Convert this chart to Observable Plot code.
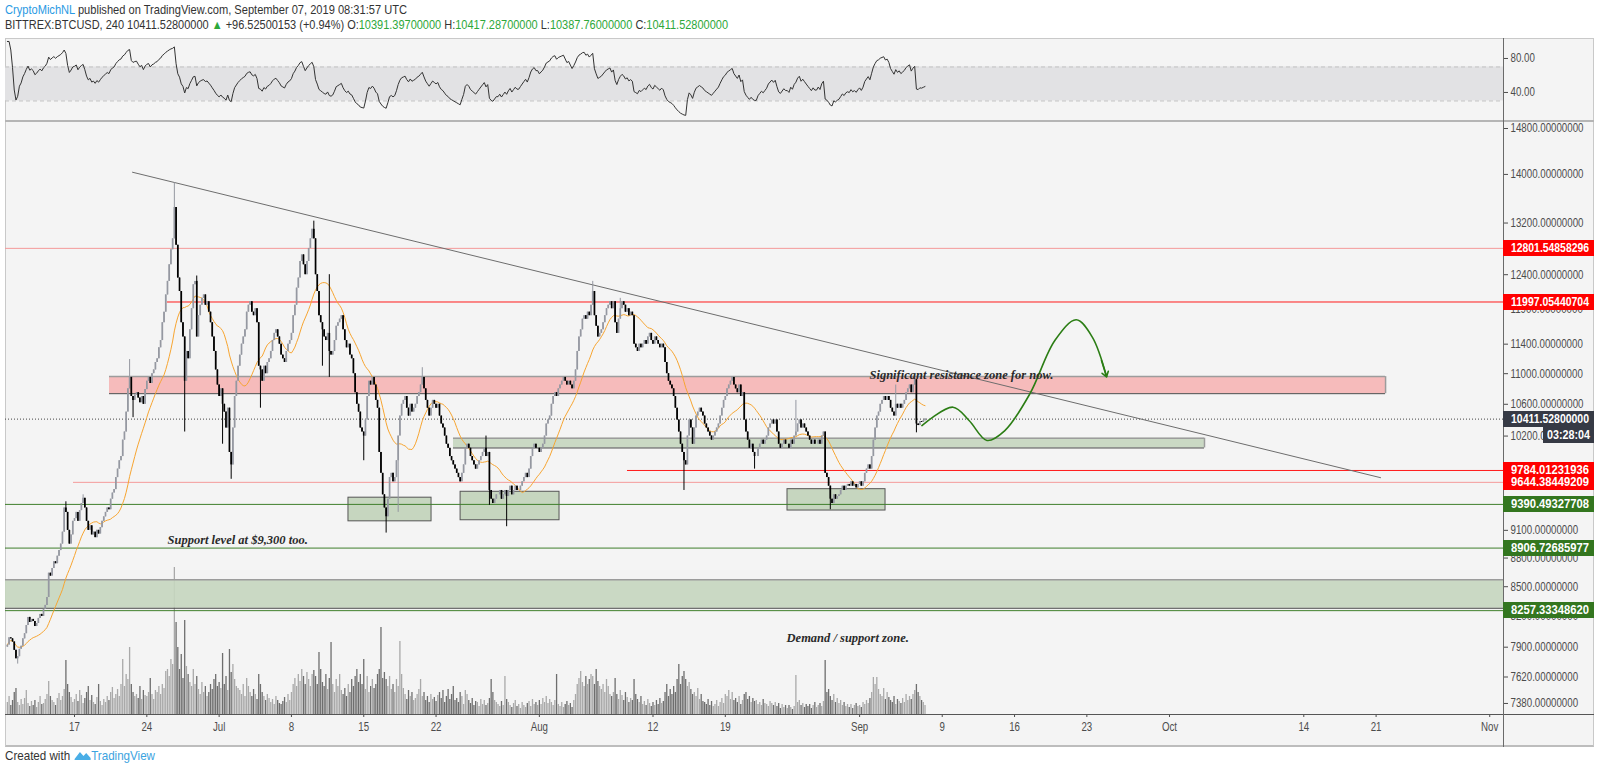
<!DOCTYPE html>
<html><head><meta charset="utf-8">
<script src="https://cdn.jsdelivr.net/npm/d3@7"></script>
<script src="https://cdn.jsdelivr.net/npm/@observablehq/plot@0.6"></script>
<style>
body{margin:0;background:#fff;}
#root{position:relative;width:1600px;height:771px;overflow:hidden;background:#fff;}
.abs{position:absolute;}
.hdr{font-family:'Liberation Sans','DejaVu Sans',sans-serif;white-space:nowrap;color:#333;display:inline-block;transform-origin:0 50%;}
.tag{position:absolute;left:1503px;width:91px;height:16px;line-height:16px;color:#fff;font-weight:bold;font-size:12px;padding-left:8px;box-sizing:border-box;font-family:'Liberation Sans','DejaVu Sans',sans-serif;white-space:nowrap;overflow:hidden;}
.tag span{display:inline-block;transform-origin:0 50%;}
</style></head>
<body><div id="root"></div>
<script>
// ---------------- DATA ----------------
// 4h candles, BITTREX:BTCUSD, first candle 2019-06-10 12:00 UTC; 6 closes per day
const firstOpen = 7900;
const closes = [
 7920,7990,7980,                          // Jun 10
 7950,7870,7790,7810,7880,7910,           // Jun 11
 7980,8030,8110,8190,8140,8170,           // Jun 12
 8150,8100,8130,8180,8220,8200,           // Jun 13
 8270,8310,8390,8640,8610,8690,           // Jun 14
 8760,8740,8820,8880,8950,9080,           // Jun 15
 9350,9300,9100,8950,9050,9200,           // Jun 16
 9230,9300,9200,9320,9400,9460,           // Jun 17
 9350,9200,9100,9150,9050,9080,           // Jun 18
 9020,9100,9060,9130,9200,9250,           // Jun 19
 9300,9350,9330,9450,9520,9560,           // Jun 20
 9700,9800,9900,9950,10150,10250,         // Jun 21
 10500,10800,10950,10700,10650,10720,     // Jun 22
 10750,10680,10620,10700,10600,10790,     // Jun 23
 10900,10950,10870,11000,11050,11150,     // Jun 24
 11200,11350,11450,11700,11850,12100,     // Jun 25
 12300,12550,12780,12950,13450,12850,     // Jun 26
 12350,12150,11700,11500,10900,11300,     // Jun 27
 11200,11600,11900,12250,12300,11500,     // Jun 28
 11800,11950,12050,12100,11950,12000,     // Jun 29
 11850,11700,11500,11300,11050,10850,     // Jun 30
 10700,10800,10600,10500,10300,10550,     // Jul 1
 10000,9850,10300,10700,10900,11100,      // Jul 2
 11250,11400,11500,11600,11850,11950,     // Jul 3
 12000,11850,11800,11900,11700,11100,     // Jul 4
 11050,10900,11100,11000,11150,11200,     // Jul 5
 11300,11450,11550,11600,11500,11400,     // Jul 6
 11250,11200,11150,11300,11400,11450,     // Jul 7
 11550,11800,11950,12200,12350,12600,     // Jul 8
 12700,12550,12400,12600,12800,12950,     // Jul 9
 13100,12950,12400,12150,11800,11700,     // Jul 10
 11600,11500,11450,11550,11300,11250,     // Jul 11
 11300,11450,11650,11700,11750,11800,     // Jul 12
 11600,11450,11350,11400,11250,11200,     // Jul 13
 11000,10750,10600,10500,10300,10250,     // Jul 14
 10200,10400,10700,10900,10850,10950,     // Jul 15
 10850,10650,10550,10000,9750,9500,       // Jul 16
 9350,9250,9450,9700,9750,9650,           // Jul 17
 9700,9900,10200,10450,10600,10650,       // Jul 18
 10700,10550,10450,10600,10500,10550,     // Jul 19
 10600,10700,10750,10850,10950,10800,     // Jul 20
 10650,10550,10450,10550,10650,10600,     // Jul 21
 10550,10600,10450,10350,10300,10200,     // Jul 22
 10100,10050,9950,9900,9850,9800,         // Jul 23
 9750,9700,9650,9750,9850,10050,          // Jul 24
 10100,10050,9950,9900,9850,9800,         // Jul 25
 9850,9900,9950,10000,10050,9950,         // Jul 26
 10000,9550,9450,9400,9450,9500,          // Jul 27
 9500,9550,9450,9500,9550,9480,           // Jul 28
 9550,9600,9500,9550,9600,9550,           // Jul 29
 9550,9600,9650,9700,9750,9700,           // Jul 30
 9800,9950,10050,10100,10050,10050,       // Jul 31
 10000,10050,10100,10200,10350,10400,     // Aug 1
 10450,10600,10700,10750,10700,10800,     // Aug 2
 10850,10900,10950,10900,10850,10900,     // Aug 3
 10850,10800,10900,11050,11300,11500,     // Aug 4
 11600,11750,11800,11750,11850,11800,     // Aug 5
 11950,12150,11800,11650,11500,11550,     // Aug 6
 11600,11700,11800,11900,11950,12000,     // Aug 7
 11900,12000,11700,11550,11750,11900,     // Aug 8
 12000,11950,11850,11900,11800,11850,     // Aug 9
 11800,11400,11350,11300,11400,11350,     // Aug 10
 11400,11450,11400,11500,11550,11450,     // Aug 11
 11400,11500,11450,11400,11350,11400,     // Aug 12
 11350,11150,11000,10900,10850,10800,     // Aug 13
 10700,10550,10400,10250,10100,10000,     // Aug 14
 9900,9850,10200,10400,10300,10100,       // Aug 15
 10300,10450,10500,10550,10500,10450,     // Aug 16
 10350,10300,10250,10200,10150,10200,     // Aug 17
 10250,10300,10350,10450,10550,10650,     // Aug 18
 10700,10800,10850,10900,10950,10850,     // Aug 19
 10800,10750,10850,10700,10750,10400,     // Aug 20
 10250,10150,10050,10100,10000,9950,      // Aug 21
 9950,10050,10100,10150,10100,10150,      // Aug 22
 10200,10300,10350,10400,10350,10400,     // Aug 23
 10250,10100,10050,10100,10150,10100,     // Aug 24
 10100,10050,10150,10100,10200,10250,     // Aug 25
 10350,10400,10300,10350,10300,10250,     // Aug 26
 10200,10150,10100,10150,10100,10100,     // Aug 27
 10150,10100,10200,10250,9750,9700,       // Aug 28
 9600,9450,9400,9500,9450,9480,           // Aug 29
 9500,9550,9600,9550,9600,9620,           // Aug 30
 9600,9650,9600,9620,9580,9620,           // Aug 31
 9650,9600,9650,9750,9800,9850,           // Sep 1
 9800,9950,10150,10300,10450,10500,       // Sep 2
 10600,10650,10700,10650,10700,10650,     // Sep 3
 10550,10500,10450,10600,10550,10600,     // Sep 4
 10550,10600,10650,10750,10800,10850,     // Sep 5
 10750,10850,10920,10350,10330,10380,     // Sep 6
 10370,10391.397,10411.528                // Sep 7
];
const volumes = [
 12,18,9,
 14,22,26,12,9,15, 10,16,24,11,8,13, 9,14,7,12,18,10, 11,15,20,33,18,14, 12,9,16,21,14,18,
 25,54,30,22,17,12, 15,20,13,24,19,11, 16,22,28,14,19,12, 10,17,30,13,9,15, 12,18,14,22,27,16,
 20,25,18,30,55,28, 40,35,67,30,22,18, 20,16,28,15,24,19, 18,22,36,20,15,24, 22,28,20,30,26,43,
 45,38,55,50,147,92, 67,45,60,36,94,48, 40,32,28,45,30,38, 25,20,32,22,28,18, 22,30,25,35,40,28,
 32,26,61,30,38,24, 65,42,50,35,28,26, 24,20,30,18,36,28, 22,18,25,20,15,40, 30,22,18,14,20,16,
 12,15,10,18,14,11, 10,13,17,12,20,14, 22,30,36,28,40,33, 45,38,30,42,35,28, 40,44,38,30,62,45,
 32,28,40,25,36,72, 30,22,35,28,40,24, 20,26,18,30,22,35, 28,38,45,32,40,30, 55,25,38,22,28,35,
 26,30,40,45,87,36, 42,35,28,38,25,30, 22,35,28,73,40,26, 20,15,24,18,22,14, 16,20,25,35,18,22,
 14,18,12,20,15,17, 13,19,22,16,24,12, 18,25,15,20,28,14, 16,12,22,18,10,24, 20,14,11,16,9,13,
 12,8,15,10,14,9, 11,16,35,22,14,12, 10,8,13,9,38,15, 12,9,7,11,14,8, 10,6,12,9,7,11,
 13,8,15,10,12,9, 14,10,16,12,18,11, 15,12,9,14,40,10, 8,12,7,10,13,9, 11,7,14,20,30,36,
 43,32,28,38,30,35, 40,38,30,45,33,28, 25,30,22,35,28,20, 18,22,36,20,15,24, 19,14,22,17,12,16,
 14,35,20,15,12,18, 10,13,9,15,11,8, 12,9,14,10,16,11, 13,22,30,18,25,20, 28,22,35,50,30,38,
 43,35,28,32,25,20, 22,18,26,15,20,13, 12,10,15,9,13,8, 10,14,8,12,16,11, 20,18,24,15,22,14,
 16,12,18,10,14,20, 22,15,18,12,16,13, 14,10,12,9,15,11, 10,8,13,11,9,12, 8,11,6,10,7,9,
 6,9,7,5,8,39, 12,14,9,11,7,10, 8,10,6,9,12,7, 9,11,8,13,54,22, 25,18,14,20,12,16,
 11,14,9,12,8,10, 7,10,6,9,11,8, 9,7,12,10,14,11, 16,22,37,30,37,25, 20,18,26,15,22,17,
 14,12,18,10,15,13, 11,16,12,20,14,18, 15,20,24,30,22,18,
 14,12,9
];
// wick extremes: [candle index, price]
const wickHighs = [[34,9420],[44,9500],[71,11190],[97,13860],[110,12380],[178,13230],[187,12400],
 [241,11080],[278,10200],[340,12300],[356,12050],[458,10650],[516,10850],[527,10950],[533,10417.287]];
const wickLows = [[6,7740],[73,10430],[103,10250],[125,10100],[130,9680],[147,10550],[183,11100],[187,10950],
 [207,9900],[220,9070],[227,9300],[280,9380],[290,9140],[393,9550],[434,9800],[478,9330],[528,10240],[533,10387.76]];

const priceTicks = [14800,14000,13200,12400,11900,11400,11000,10600,10200,8800,8500,8200,9100,7900,7620,7380];
const rsiTicks = [40,80];
const rsiBandLevels = [30,70];
const timeTicks = ["2019-06-17","2019-06-24","2019-07-01","2019-07-08","2019-07-15","2019-07-22","2019-08-01",
 "2019-08-12","2019-08-19","2019-09-01","2019-09-09","2019-09-16","2019-09-23","2019-10-01","2019-10-14","2019-10-21","2019-11-01"];

// horizontal levels drawn by the author
const levels = [
 {price:12801.54858296, from:null, kind:"resMinor"},
 {price:11997.05440704, from:"2019-06-26T00:00Z", kind:"res"},
 {price:9784.01231936, from:"2019-08-09T12:45Z", kind:"res"},
 {price:9644.38449209, from:"2019-06-16T21:40Z", kind:"resMinor"},
 {price:9390.49327708, from:null, kind:"sup"},
 {price:8906.72685977, from:null, kind:"sup"},
 {price:8257.33348620, from:null, kind:"sup"}
];
const zones = [
 {from:"2019-06-20T09:20Z", to:"2019-10-21T22:00Z", lo:10737, hi:10961, kind:"res"},
 {from:"2019-07-23T16:30Z", to:"2019-10-04T09:20Z", lo:10054, hi:10174, kind:"sup"},
 {from:null, to:null, lo:8281, hi:8571, kind:"sup"}
];
const boxes = [
 {from:"2019-07-13T12:30Z", to:"2019-07-21T13:30Z", lo:9200, hi:9467},
 {from:"2019-07-24T09:00Z", to:"2019-08-02T22:50Z", lo:9212, hi:9535},
 {from:"2019-08-25T00:30Z", to:"2019-09-03T12:15Z", lo:9321, hi:9565}
];
const trendline = [
 {date:"2019-06-22T14:45Z", price:14037},
 {date:"2019-10-21T10:20Z", price:9699}
];
const forecastPath = [
 {date:"2019-09-07T00:45Z", price:10330},
 {date:"2019-09-10T01:00Z", price:10563},
 {date:"2019-09-11T14:20Z", price:10394},
 {date:"2019-09-13T08:00Z", price:10146},
 {date:"2019-09-15T01:30Z", price:10268},
 {date:"2019-09-17T11:30Z", price:10734},
 {date:"2019-09-19T21:40Z", price:11451},
 {date:"2019-09-21T23:20Z", price:11741},
 {date:"2019-09-23T12:40Z", price:11497},
 {date:"2019-09-24T21:50Z", price:10959}
];
const forecastHead = {fromDate:"2019-09-24T10:00Z", fromPrice:11177, toDate:"2019-09-24T21:50Z", toPrice:10959};
const notes = [
 {date:"2019-09-01T23:00Z", price:10982, text:"Significant resistance zone for now."},
 {date:"2019-06-26T00:00Z", price:8990, text:"Support level at $9,300 too."},
 {date:"2019-08-24T22:20Z", price:7990, text:"Demand / support zone."}
];
const lastPrice = 10411.528;
const countdown = "03:28:04";
const header1 = {author:"CryptoMichNL", rest:" published on TradingView.com, September 07, 2019 08:31:57 UTC"};
const ohlc = {sym:"BITTREX:BTCUSD, 240", last:"10411.52800000", chg:"+96.52500153 (+0.94%)",
 o:"10391.39700000", h:"10417.28700000", l:"10387.76000000", c:"10411.52800000"};

// ---------------- BUILD ----------------
const T0 = Date.UTC(2019,5,10,12), STEP = 4*3600*1000;
const X0 = new Date(Date.UTC(2019,5,10,7,40)), X1 = new Date(Date.UTC(2019,10,2,8,0));
const UI = "'Liberation Sans','DejaVu Sans',sans-serif";
const UP = "#9598a1", DOWN = "#000000";
const candles = closes.map((c,i)=>{
  const o = i ? closes[i-1] : firstOpen;
  return {date:new Date(T0+i*STEP), open:o, close:c, high:Math.max(o,c), low:Math.min(o,c), vol:volumes[i]};
});
wickHighs.forEach(([i,v])=>{candles[i].high=Math.max(candles[i].high,v);});
wickLows.forEach(([i,v])=>{candles[i].low=Math.min(candles[i].low,v);});
const col = d => d.close>=d.open ? UP : DOWN;

// RSI(14), Wilder smoothing
const rsiSeries = [];
{ let ag=0, al=0; const n=14;
  candles.forEach((d,i)=>{
    const diff = d.close - d.open, g=Math.max(diff,0), l=Math.max(-diff,0);
    const k = Math.min(i+1,n);
    ag = (ag*(k-1)+g)/k; al = (al*(k-1)+l)/k;
    const r = al===0 ? 100 : 100 - 100/(1+ag/al);
    rsiSeries.push({date:d.date, rsi:r});
  });
}
const dt = s => s ? new Date(s) : null;
const levelStyle = {res:"#ff1a1a", resMinor:"#f49a9a", sup:"#3f7f2c"};
const zoneFill = {res:"#f5b5b5", sup:"#c6d6bf"};
const fmtTime = d => d.getUTCDate()===1 ? d3.utcFormat("%b")(d) : String(d.getUTCDate());

const root = document.getElementById("root");
function div(css, html){const e=document.createElement("div"); e.className="abs"; e.style.cssText=css; if(html!=null) e.innerHTML=html; root.appendChild(e); return e;}
function fit(el, target){ const w = el.getBoundingClientRect().width; if (w>0) el.style.transform = `scaleX(${target/w})`; }

// header
const G = "#2ea83a";
const h1 = div("left:5px;top:2px;font-size:13px;", `<span class="hdr"><span style="color:#2a9ae3">${header1.author}</span>${header1.rest}</span>`);
const h2 = div("left:5px;top:18px;font-size:12.5px;", `<span class="hdr">${ohlc.sym} ${ohlc.last} <span style="color:${G}">▲</span> ${ohlc.chg} O:<span style="color:${G}">${ohlc.o}</span> H:<span style="color:${G}">${ohlc.h}</span> L:<span style="color:${G}">${ohlc.l}</span> C:<span style="color:${G}">${ohlc.c}</span></span>`);
fit(h1.firstChild, 402); fit(h2.firstChild, 723);

// chart background
div("left:5px;top:38px;width:1589px;height:709px;background:#f4f4f4;box-sizing:border-box;border:1px solid #c9c9c9;border-bottom:2px solid #bdbdbd;");

const common = {width:1589, marginLeft:0, marginRight:91, marginTop:0};
const st = {background:"transparent", fontFamily:UI, fontSize:"12px", color:"#4c4c4c", overflow:"visible"};

// volume (beneath candles)
const volPlot = Plot.plot({
  ...common, height:592, marginBottom:0, style:{...st},
  x:{type:"utc", domain:[X0,X1], axis:null},
  y:{domain:[0,592], axis:null},
  marks:[Plot.ruleX(candles, {x:"date", y1:0, y2:"vol", stroke:d=>d.close>=d.open?"#a9a9a9":"#6e6e6e", strokeWidth:1.3})]
});
volPlot.style.position="absolute"; volPlot.style.left="5px"; volPlot.style.top="122px";
root.appendChild(volPlot);

// price pane
const pricePlot = Plot.plot({
  ...common, height:625, marginBottom:33, style:st,
  x:{type:"utc", domain:[X0,X1], ticks:timeTicks.map(s=>new Date(s+"T00:00Z")), tickFormat:fmtTime, tickSize:3, tickPadding:5, label:null},
  y:{type:"log", domain:[7282,14908], axis:"right", ticks:priceTicks, tickFormat:d3.format(".8f"), tickSize:4, tickPadding:3, label:null},
  marks:[
    Plot.rect(zones, {x1:d=>dt(d.from)||X0, x2:d=>dt(d.to)||X1, y1:"lo", y2:"hi", fill:d=>zoneFill[d.kind], fillOpacity:0.92}),
    Plot.ruleY(zones, {y:"hi", x1:d=>dt(d.from)||X0, x2:d=>dt(d.to)||X1, stroke:"#9c9c9c", strokeWidth:1.5}),
    Plot.ruleY(zones, {y:"lo", x1:d=>dt(d.from)||X0, x2:d=>dt(d.to)||X1, stroke:"#4a4a4a", strokeWidth:1}),
    Plot.ruleX(zones.filter(d=>d.to), {x:d=>dt(d.to), y1:"lo", y2:"hi", stroke:"#9c9c9c", strokeWidth:1.5}),
    Plot.rect(boxes, {x1:d=>dt(d.from), x2:d=>dt(d.to), y1:"lo", y2:"hi", fill:"#c6d6bf", stroke:"#555", strokeWidth:1}),
    Plot.ruleY(levels, {y:"price", x1:d=>dt(d.from)||X0, x2:X1, stroke:d=>levelStyle[d.kind], strokeWidth:1}),
    Plot.ruleY([lastPrice], {stroke:"#444", strokeDasharray:"1,2", strokeWidth:1}),
    Plot.line(trendline, {x:d=>dt(d.date), y:"price", stroke:"#6d6d6d", strokeWidth:1}),
    Plot.lineY(candles, Plot.windowY({k:20, anchor:"end"}, {x:"date", y:"close", stroke:"#f7a531", strokeWidth:1})),
    Plot.ruleX(candles, {x:"date", y1:"low", y2:"high", stroke:col, strokeWidth:1}),
    Plot.ruleX(candles, {x:"date", y1:"open", y2:"close", stroke:col, strokeWidth:1.7}),
    Plot.line(forecastPath, {x:d=>dt(d.date), y:"price", curve:"catmull-rom", stroke:"#2b7d14", strokeWidth:1.6}),
    Plot.arrow([forecastHead], {x1:d=>dt(d.fromDate), y1:"fromPrice", x2:d=>dt(d.toDate), y2:"toPrice", stroke:"#2b7d14", strokeWidth:1.6, headLength:12, headAngle:70}),
    Plot.text(notes, {x:d=>dt(d.date), y:"price", text:"text", textAnchor:"start", fontFamily:"'Liberation Serif',serif", fontStyle:"italic", fontWeight:"bold", fontSize:12.5, fill:"#2a2a2a"})
  ]
});
pricePlot.style.position="absolute"; pricePlot.style.left="5px"; pricePlot.style.top="122px";
root.appendChild(pricePlot);

// RSI pane
const rsiPlot = Plot.plot({
  ...common, height:82, marginBottom:0, style:st,
  x:{type:"utc", domain:[X0,X1], axis:null},
  y:{domain:[7,103.5], axis:"right", ticks:rsiTicks, tickFormat:d3.format(".2f"), tickSize:4, tickPadding:3, label:null},
  marks:[
    Plot.rect([rsiBandLevels], {x1:X0, x2:X1, y1:d=>d[0], y2:d=>d[1], fill:"#e2e2e4"}),
    Plot.ruleY(rsiBandLevels, {stroke:"#c2c2c2", strokeDasharray:"4,3", strokeWidth:1}),
    Plot.line(rsiSeries, {x:"date", y:"rsi", stroke:"#333", strokeWidth:1})
  ]
});
rsiPlot.style.position="absolute"; rsiPlot.style.left="5px"; rsiPlot.style.top="38px";
root.appendChild(rsiPlot);

// condense axis tick labels to the narrow TradingView look
{ const probe = [...pricePlot.querySelectorAll("text")].find(t=>t.textContent==="14800.00000000");
  const k = probe ? 73 / probe.getComputedTextLength() : 0.87;
  [pricePlot, rsiPlot].forEach(svg=>{
    svg.querySelectorAll('[aria-label$="tick label"] text').forEach(t=>{
      const L = t.getComputedTextLength();
      t.setAttribute("textLength", (L*k).toFixed(1)); t.setAttribute("lengthAdjust","spacingAndGlyphs");
    });
  });
}

// pane separators and axis lines
div("left:5px;top:120px;width:1589px;height:2px;background:#b5b5b5;");
div("left:5px;top:714px;width:1589px;height:1px;background:#555;");
div("left:1503px;top:38px;width:1px;height:709px;background:#6a6a6a;");

// price tags on the right axis
const ys = pricePlot.scale("y");
function tag(v, text, bg, extraTop=0){
  const y = 122 + ys.apply(v) + extraTop;
  const e = div(`top:${(y-8).toFixed(1)}px;`, `<span>${text}</span>`); e.className="tag"; e.style.background=bg;
  return e;
}
const tagBg = {res:"#ff0000", resMinor:"#ff0000", sup:"#33761f"};
const tagEls = levels.map(l=>tag(l.price, l.price.toFixed(8), tagBg[l.kind]));
tagEls.push(tag(lastPrice, lastPrice.toFixed(8), "#363a45"));
tagEls.forEach(e=>fit(e.firstChild, 78));
{ const e = tag(lastPrice, countdown, "#363a45", 16); e.style.left="1543px"; e.style.width="51px"; e.style.paddingLeft="4px"; fit(e.firstChild, 43); }

// footer
const ft = div("left:5px;top:748px;font-size:13px;", `<span class="hdr">Created with <svg width="20" height="12" viewBox="0 0 20 12" style="vertical-align:-1px"><path d="M1 10 L7 3 L11 7 L14 4 L19 9 L19 11 L1 11 Z" fill="#4aaee6"/></svg><span style="color:#3ba3e0">TradingView</span></span>`);
fit(ft.firstChild, 150);
</script>
</body></html>
